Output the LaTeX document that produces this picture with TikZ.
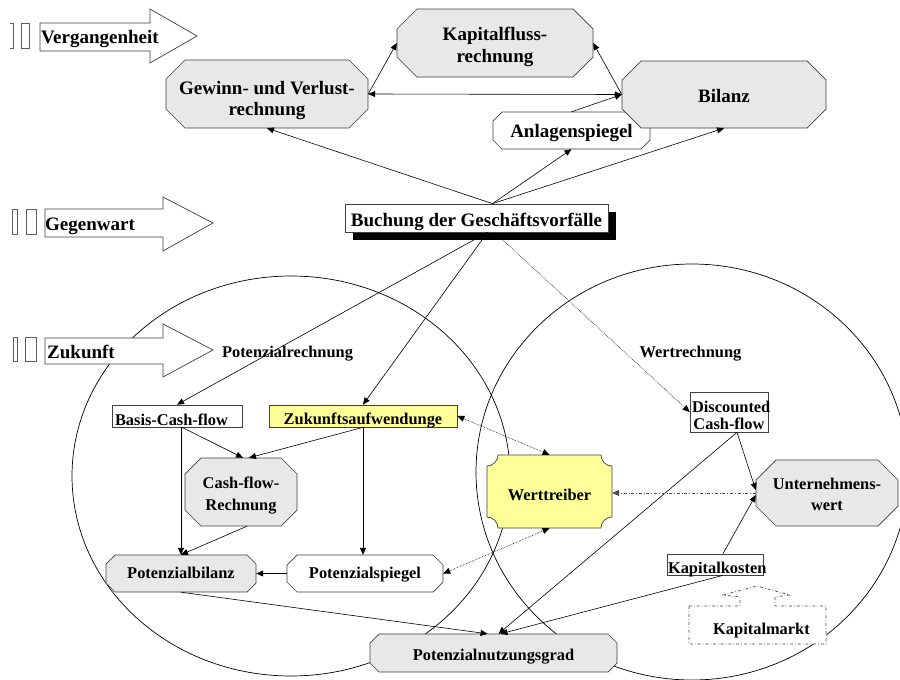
\documentclass[tikz,border=0pt]{standalone}
\usepackage{fontspec}
\setmainfont{Liberation Serif}
\usetikzlibrary{arrows.meta,shadows,calc}
\definecolor{nodegray}{HTML}{E8E8E8}
\definecolor{nodeyellow}{HTML}{FFFF99}
\definecolor{edgegray}{HTML}{404040}
\definecolor{tofugray}{HTML}{606060}
\newcommand{\octbox}[9]{%
  \path[#7] ({#2+#6},#3) -- ({#4-#6},#3) -- (#4,{#3+#6}) -- (#4,{#5-#6}) -- ({#4-#6},#5) -- ({#2+#6},#5) -- (#2,{#5-#6}) -- (#2,{#3+#6}) -- cycle;
  \node[lbl, #8, minimum width={(#4-#2)*1pt}, minimum height={(#5-#3)*1pt}] (#1) at ({(#2+#4)/2},{(#3+#5)/2}) {#9};
}
\tikzset{
  big/.style={font=\bfseries\fontsize{19}{22}\selectfont},
  small/.style={font=\bfseries\fontsize{16.4}{22}\selectfont},
  shapegray/.style={fill=nodegray, draw=edgegray, line width=0.7pt},
  shapewhite/.style={fill=white, draw=edgegray, line width=0.7pt},
  shapeyellow/.style={fill=nodeyellow, draw=edgegray, line width=0.7pt},
  lbl/.style={inner sep=0pt, align=center, text=black},
  rectbox/.style={draw=edgegray, line width=0.7pt, inner ysep=0pt, inner xsep=2pt},
  blockarrow/.style={fill=white, draw=edgegray, line width=0.7pt},
  tofu/.style={draw=tofugray, line width=0.6pt},
  region/.style={draw=black, line width=0.7pt},
  conn/.style={draw=black, line width=0.6pt, -{Triangle[length=7pt,width=6pt]}},
  biconn/.style={draw=black, line width=0.6pt, {Triangle[length=7pt,width=6pt]}-{Triangle[length=7pt,width=6pt]}},
  dotconn/.style={conn, densely dotted},
  dotbiconn/.style={biconn, densely dotted},
  dashdotconn/.style={draw=black!70, line width=0.6pt, dash dot, -{Triangle[length=7pt,width=6pt]}},
  marketshape/.style={draw=black!70, line width=0.7pt, dash dot, fill=white},
}
\begin{document}
\begin{tikzpicture}[x=1pt, y=-1pt]
\useasboundingbox (0,0) rectangle (900,680);
\clip (0,0) rectangle (900,680);
\fill[white] (0,0) rectangle (900,680);

% regions
\draw[region] (291,476) ellipse [x radius=219pt, y radius=200pt];
\draw[region] (692,472) ellipse [x radius=216pt, y radius=208pt];

% time arrows
\draw[tofu] (10,23) -- (13,23) -- (13,48) -- (10,48);
\draw[tofu] (21,23) rectangle (29,48);
\draw[blockarrow] (40,23) -- (150,23) -- (150,9) -- (197,36) -- (150,63) -- (150,51) -- (40,51) -- cycle;
\node[lbl, big, anchor=base west] (tv) at (41,43.5) {Vergangenheit};

\draw[tofu] (12,209) rectangle (17,234);
\draw[tofu] (26,209) rectangle (36,234);
\draw[blockarrow] (45,209) -- (163,209) -- (163,197) -- (213,223) -- (163,251) -- (163,237) -- (45,237) -- cycle;
\node[lbl, big, anchor=base west] (tg) at (45,230) {Gegenwart};

\draw[tofu] (13,337) rectangle (17,361);
\draw[tofu] (25,337) rectangle (36,361);
\draw[blockarrow] (45,338) -- (163,338) -- (163,324) -- (213,350) -- (163,377) -- (163,364) -- (45,364) -- cycle;
\node[lbl, big, anchor=base west] (tz) at (47,358) {Zukunft};

% top nodes
\octbox{kf}{397}{9}{593}{77}{20}{shapegray}{big, text height=38pt, text depth=0pt}{Kapitalfluss-\\rechnung}
\octbox{gv}{166}{60}{368}{128}{19}{shapegray}{font=\bfseries\fontsize{19}{20.5}\selectfont, text height=42pt, text depth=0pt}{Gewinn- und Verlust-\\rechnung}
\octbox{an}{493}{112}{650}{149}{9}{shapewhite}{big, text height=14pt, text depth=0pt}{Anlagenspiegel}
\octbox{bi}{622}{61}{826}{128}{19}{shapegray}{big, text height=15pt, text depth=0pt}{Bilanz}

\node[lbl, big, draw=edgegray, line width=0.7pt, fill=white, minimum width=263pt, minimum height=28pt,
      text height=17.4pt, text depth=0pt,
      drop shadow={shadow xshift=8pt, shadow yshift=-8pt, fill=black, opacity=1}] (bu) at (476.5,218) {Buchung der Geschäftsvorfälle};

% region labels
\node[lbl, small, anchor=base] (pr) at (287.5,357) {Potenzialrechnung};
\node[lbl, small, anchor=base] (wr) at (690.5,357) {Wertrechnung};

% lower nodes
\node[rectbox, small, fill=white, text width=124pt, align=left, inner xsep=3pt, minimum height=22pt,
      text height=18pt, text depth=0pt] (bcf) at (177,416) {Basis-Cash-flow};
\node[rectbox, small, fill=nodeyellow, text width=184pt, align=center, minimum height=22pt,
      text height=16pt, text depth=0pt] (zk) at (363,416) {Zukunftsaufwendunge};
\node[rectbox, font=\bfseries\fontsize{16.4}{17.5}\selectfont, fill=white, text width=74pt, align=center, minimum height=40pt,
      text height=10pt, text depth=10pt] (dcf) at (729,412) {Discounted\\Cash-flow};
\node[rectbox, small, fill=white, text width=94pt, align=left, inner xsep=1pt, minimum height=21pt,
      text height=17pt, text depth=0pt] (kk) at (715,564.5) {Kapitalkosten};

\octbox{cfr}{185}{458}{297}{526}{16}{shapegray}{small, text height=36pt, text depth=0pt}{Cash-flow-\\Rechnung}
\octbox{pb}{106}{555}{256}{592}{9}{shapegray}{small, text height=11pt, text depth=2pt}{Potenzialbilanz}
\octbox{ps}{287}{555}{443}{592}{10}{shapewhite}{small, text height=11pt, text depth=2pt}{Potenzialspiegel}
\octbox{uw}{756}{460}{898}{526}{20}{shapegray}{font=\bfseries\fontsize{16.4}{21}\selectfont, text height=34pt, text depth=0pt}{Unternehmens-\\wert}
\octbox{pn}{370}{634}{617}{672}{9}{shapegray}{small, text height=15pt, text depth=0pt}{Potenzialnutzungsgrad}

% Werttreiber plaque
\path[shapeyellow] (498,455) -- (601,455) arc[start angle=180,end angle=270,radius=11pt]
   -- (612,517) arc[start angle=90,end angle=180,radius=11pt]
   -- (498,528) arc[start angle=0,end angle=90,radius=11pt]
   -- (487,466) arc[start angle=270,end angle=360,radius=11pt] -- cycle;
\node[lbl, small, minimum width=125pt, minimum height=73pt, text height=17pt, text depth=0pt] (wt) at (549.5,491.5) {Werttreiber};

% Kapitalmarkt
\path[marketshape] (689,606) -- (740,606) -- (740,597) -- (723,595) -- (757,586) -- (790,595) -- (775,597) -- (775,606)
   -- (826,606) -- (826,644) -- (689,644) -- cycle;
\node[lbl, small, anchor=base] (km) at (761.5,634) {Kapitalmarkt};

% connectors, top
\draw[biconn] (gv.east) -- (bi.west);
\draw[conn] (gv.east) -- (kf.west);
\draw[conn] (bi.west) -- (kf.east);
\draw[conn] (an.north) -- (bi.west);
\draw[conn] ([xshift=16pt]bu.north) -- (gv.south);
\draw[conn] ([xshift=16pt]bu.north) -- (an.south);
\draw[conn] ([xshift=16pt]bu.north) -- (bi.south);

% connectors, lower
\draw[conn] ([xshift=11pt]bu.south) -- (bcf.north);
\draw[conn] ([xshift=11pt]bu.south) -- (zk.north);
\draw[dotconn] ([xshift=18pt]bu.south) -- (dcf.west);
\draw[conn] ([xshift=5pt]bcf.south) -- ([xshift=2pt]cfr.north);
\draw[conn] (zk.south) -- ([xshift=8pt]cfr.north);
\draw[conn] (bcf.south -| pb.north) -- (pb.north);
\draw[conn] ([xshift=6pt]cfr.south) -- (pb.north);
\draw[conn] (zk.south) -- (zk.south |- ps.north);
\draw[conn] (ps.west) -- (pb.east);
\draw[conn] (pb.south) -- ([xshift=-6pt]pn.north);
\draw[conn] ([xshift=8pt]dcf.south) -- ([xshift=5pt]pn.north);
\draw[conn] ([xshift=8pt]dcf.south) -- ([yshift=3pt]uw.west);
\draw[conn] ([xshift=8pt]kk.north) -- ([yshift=-2pt]uw.west);
\draw[conn] ([xshift=8pt]kk.south) -- ([xshift=7pt]pn.north);
\draw[dashdotconn] (uw.west) -- (uw.west -| wt.east);
\draw[dotbiconn] (zk.east) -- (wt.north);
\draw[dotbiconn] (wt.south) -- (ps.east);
\end{tikzpicture}
\end{document}
